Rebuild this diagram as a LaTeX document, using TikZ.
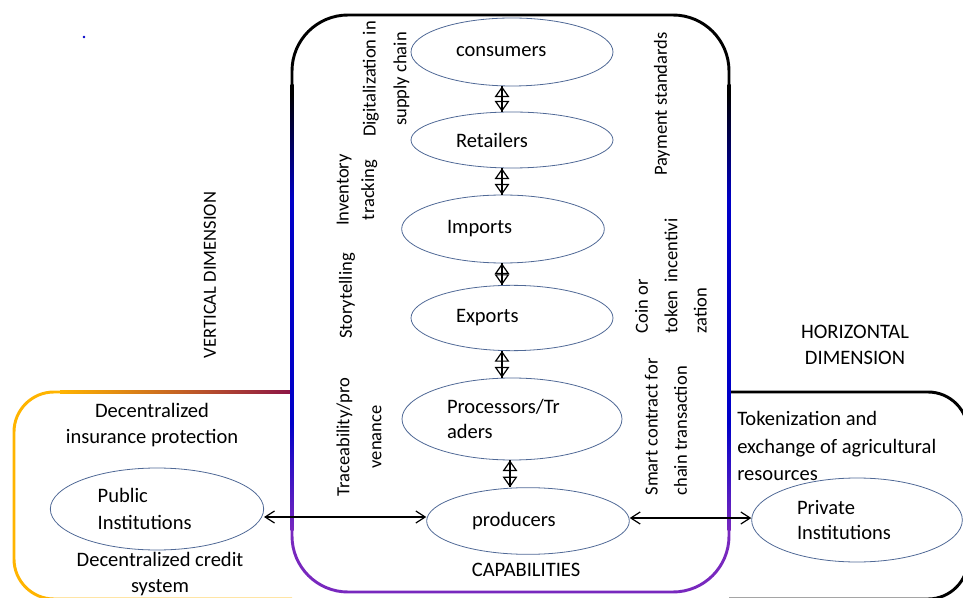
\documentclass[tikz,border=0pt]{standalone}
\usepackage{fontspec}
\setmainfont{Carlito}
\usetikzlibrary{shapes.geometric,arrows.meta}
\definecolor{ecol}{RGB}{80,105,150}
\definecolor{vblue}{RGB}{0,0,200}
\definecolor{vpurple}{RGB}{120,40,190}
\definecolor{lorange}{RGB}{255,180,0}
\definecolor{lmaroon}{RGB}{140,20,70}
\pgfdeclareverticalshading{sidefade}{100bp}{color(0bp)=(vpurple); color(25bp)=(vpurple); color(37bp)=(vblue); color(62bp)=(vblue); color(74bp)=(black); color(100bp)=(black)}

\begin{document}
\begin{tikzpicture}[x=0.75pt,y=-0.75pt,
    blob/.style={ellipse,draw=ecol,line width=0.6pt,inner sep=0pt,align=left,font=\fontsize{15.4}{19}\selectfont},
    vtext/.style={rotate=90,inner sep=0pt,font=\fontsize{13.9}{22}\selectfont},
    htext/.style={inner sep=0pt,align=center,font=\fontsize{15.4}{19.5}\selectfont},
    updown/.style={{Triangle[open,length=8pt,width=11pt]}-{Triangle[open,length=8pt,width=11pt]},line width=0.9pt,postaction={draw,-}},
    both/.style={{Straight Barb[length=7pt,width=9pt]}-{Straight Barb[length=7pt,width=9pt]},line width=0.9pt}]
    \useasboundingbox (0,0) rectangle (963,598);
    \clip (0,0) rectangle (963,598);

    \draw[line width=2.2pt,lorange,rounded corners=30pt] (292,392) -- (14,392) -- (14,599) -- (292,599);
    \shade[left color=lorange,right color=lmaroon] (60,390.5) rectangle (292,393.5);
    \draw[line width=2.2pt,rounded corners=30pt] (729,392) -- (968,392) -- (968,599) -- (729,599);

    \draw[line width=2.2pt,rounded corners=42pt] (292,85) -- (292,15) -- (729,15) -- (729,85);
    \draw[line width=2.2pt,vpurple,rounded corners=42pt] (292,530) -- (292,592) -- (729,592) -- (729,530);
    \shade[shading=sidefade] (290.5,85) rectangle (293.5,530);
    \shade[shading=sidefade] (727.5,85) rectangle (730.5,530);

    \fill[vblue] (84,37) circle (1pt);

    \node[blob,minimum width=151.5pt,minimum height=51pt,text width=84pt] (C) at (512,52) {consumers};
    \node[blob,minimum width=151.5pt,minimum height=42pt,text width=84pt] (R) at (512,140) {Retailers};
    \node[blob,minimum width=152pt,minimum height=51pt,text width=84pt] (I) at (503,229) {Imports};
    \node[blob,minimum width=151.5pt,minimum height=49pt,text width=84pt] (E) at (512,318) {Exports};
    \node[blob,minimum width=165pt,minimum height=61.5pt,text width=97.5pt] (P) at (512,419) {Processors/Tr\\aders};
    \node[blob,minimum width=152pt,minimum height=50pt,text width=84pt] (Pr) at (528,521) {producers};
    \node[blob,minimum width=160pt,minimum height=61.5pt,text width=89pt] (Pu) at (157,509) {Public\\[1pt]Institutions};
    \node[blob,minimum width=158pt,minimum height=63pt,text width=90pt] (Pv) at (857,520) {Private\\Institutions};

    \draw[updown] ([xshift=-7.5pt]C.south) -- ([xshift=-7.5pt]R.north);
    \draw[updown] ([xshift=-7.5pt]R.south) -- ([xshift=-0.75pt]I.north);
    \draw[updown] ([xshift=-0.75pt]I.south) -- ([xshift=-7.5pt]E.north);
    \draw[updown] ([xshift=-7.5pt]E.south) -- ([xshift=-7.5pt]P.north);
    \draw[updown] ([xshift=-1.5pt]P.south) -- ([xshift=-13.5pt]Pr.north);
    \draw[both] ([yshift=-6pt]Pu.east) -- ([yshift=3pt]Pr.west);
    \draw[both] ([yshift=2.25pt]Pr.east) -- ([yshift=1.5pt]Pv.west);

    \node[vtext,align=center] (dig) at (386,79) {Digitalization in\\[1pt]supply chain};
    \node[vtext,align=center] (inv) at (357,190) {Inventory\\[-3pt]tracking};
    \node[vtext] (sto) at (347,296) {Storytelling};
    \node[vtext,align=center] (tra) at (359,437) {Traceability/pro\\[2pt]venance};
    \node[vtext] (pay) at (662,104) {Payment standards};
    \node[vtext,align=left] (coin) at (671,276) {Coin or\\token\ \ incentivi\\zation};
    \node[vtext,align=left] (sma) at (666,427) {Smart contract for\\chain transaction};
    \node[vtext] (ver) at (210,275) {VERTICAL DIMENSION};

    \node[htext] (hor) at (855,345) {HORIZONTAL\\DIMENSION};
    \node[htext] (ins) at (152,425) {Decentralized\\insurance protection};
    \node[htext] (cre) at (160,574) {Decentralized credit\\system};
    \node[htext,align=left,anchor=west] (tok) at (737,446) {Tokenization and\\[1pt]exchange of agricultural\\[1pt]resources};
    \node[htext] (cap) at (526,570) {CAPABILITIES};
\end{tikzpicture}
\end{document}
